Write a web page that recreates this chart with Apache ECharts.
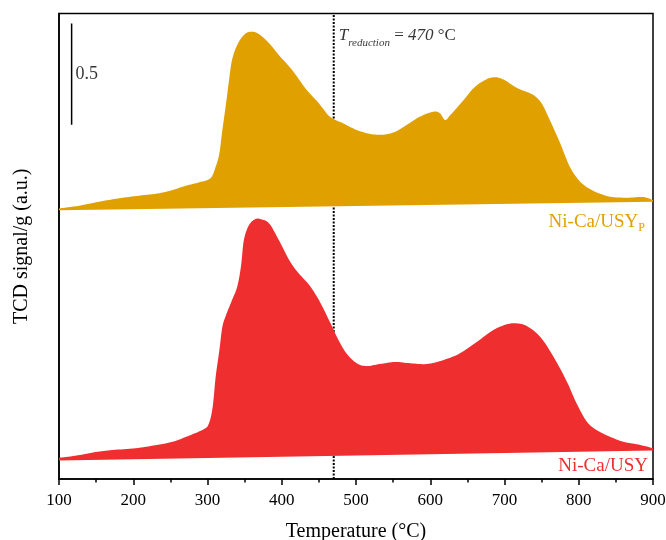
<!DOCTYPE html>
<html><head><meta charset="utf-8">
<script src="https://cdn.jsdelivr.net/npm/echarts@6/dist/echarts.min.js"></script>
<style>html,body{margin:0;padding:0;background:#fff}#c{width:666px;height:540px}</style>
</head><body><div id="c"></div>
<script>
// ---- data (offset TCD curves, a.u.) ----
const tempUSYP = [100,127,154,181,208,235,253,271,289,304,311,316,320,325,329,333,340,349,358,369,383,396,414,432,450,465,483,501,519,537,553,568,586,604,613,620,627,645,658,672,685,698,714,725,739,750,761,775,788,802,820,842,865,887,900];
const signalUSYP = [1.337,1.350,1.370,1.387,1.400,1.412,1.428,1.449,1.466,1.486,1.543,1.609,1.724,1.856,1.971,2.070,2.144,2.194,2.210,2.199,2.153,2.095,2.021,1.930,1.856,1.790,1.757,1.724,1.705,1.701,1.716,1.749,1.790,1.815,1.807,1.774,1.798,1.873,1.930,1.968,1.985,1.975,1.938,1.919,1.897,1.856,1.774,1.659,1.543,1.469,1.423,1.395,1.390,1.393,1.378];
const baselineUSYP = [1.328, 1.370];

const tempUSY = [100,122,149,172,203,230,253,275,295,302,307,311,316,320,325,333,340,345,349,356,365,372,383,396,410,421,437,450,465,475,487,501,514,532,553,573,595,618,640,663,685,703,716,730,748,766,784,797,811,824,842,860,883,900];
const signalUSY = [0.105,0.115,0.133,0.143,0.152,0.167,0.184,0.214,0.246,0.275,0.357,0.505,0.637,0.752,0.810,0.884,0.950,1.049,1.181,1.255,1.285,1.283,1.263,1.181,1.082,1.024,0.958,0.884,0.775,0.697,0.621,0.572,0.558,0.568,0.578,0.572,0.568,0.588,0.621,0.678,0.736,0.764,0.769,0.756,0.703,0.604,0.481,0.374,0.283,0.242,0.209,0.184,0.168,0.152];
const baselineUSY = [0.091, 0.141];
const baselineTemps = [100, 900];

const reductionTemp = 470;
const scaleBarTemp = 117;
const scaleBarRange = [1.75, 2.25];
const xRange = [100, 900];
const xStep = 100;
const yRange = [0, 2.3];

const colUSYP = '#E0A000';
const colUSY = '#EF2E2F';
const FONT = '"Liberation Serif", "DejaVu Serif", serif';

// Smooth the outline in pixel space (Catmull-Rom through the read points)
function smoothOutline(p) {
  const out = [];
  const n = p.length;
  for (let i = 0; i < n - 1; i++) {
    const p0 = p[Math.max(0, i - 1)], p1 = p[i], p2 = p[i + 1], p3 = p[Math.min(n - 1, i + 2)];
    const c1 = [p1[0] + (p2[0] - p0[0]) / 6, p1[1] + (p2[1] - p0[1]) / 6];
    const c2 = [p2[0] - (p3[0] - p1[0]) / 6, p2[1] - (p3[1] - p1[1]) / 6];
    const steps = 8;
    for (let s = 0; s < steps; s++) {
      const t = s / steps, u = 1 - t;
      out.push([
        u*u*u*p1[0] + 3*u*u*t*c1[0] + 3*u*t*t*c2[0] + t*t*t*p2[0],
        u*u*u*p1[1] + 3*u*u*t*c1[1] + 3*u*t*t*c2[1] + t*t*t*p2[1]
      ]);
    }
  }
  out.push(p[n - 1]);
  return out;
}

function areaSeries(name, temps, vals, base, color) {
  return {
    type: 'custom', name: name, coordinateSystem: 'cartesian2d', z: 3, silent: true,
    data: temps.map((t, i) => [t, vals[i]]),
    encode: { x: 0, y: 1 },
    renderItem: function (params, api) {
      if (params.dataIndex !== 0) return null;
      const pts = smoothOutline(temps.map((t, i) => api.coord([t, vals[i]])));
      pts.push(api.coord([baselineTemps[1], base[1]]));
      pts.push(api.coord([baselineTemps[0], base[0]]));
      return { type: 'polygon', shape: { points: pts }, style: { fill: color } };
    }
  };
}

const chart = echarts.init(document.getElementById('c'), null, { renderer: 'canvas' });
chart.setOption({
  animation: false,
  backgroundColor: '#fff',
  grid: { left: 59, right: 13, top: 13.5, bottom: 61, containLabel: false, outerBoundsMode: 'none', show: true, borderColor: '#000', borderWidth: 1.5, backgroundColor: 'transparent' },
  xAxis: {
    type: 'value', min: xRange[0], max: xRange[1], interval: xStep,
    name: 'Temperature (°C)', nameLocation: 'middle', nameGap: 43,
    nameTextStyle: { fontFamily: FONT, fontSize: 20, color: '#000' },
    axisLine: { show: true, lineStyle: { color: '#000', width: 1.5 } },
    axisTick: { show: true, inside: false, length: 6, lineStyle: { color: '#000', width: 1.5 } },
    minorTick: { show: true, splitNumber: 2, length: 3.5, lineStyle: { color: '#000', width: 1.5 } },
    axisLabel: { fontFamily: FONT, fontSize: 17, color: '#000', margin: 13 },
    splitLine: { show: false }
  },
  yAxis: {
    type: 'value', min: yRange[0], max: yRange[1],
    name: 'TCD signal/g (a.u.)', nameLocation: 'middle', nameGap: 27,
    nameTextStyle: { fontFamily: FONT, fontSize: 20, color: '#000' },
    axisLine: { show: true, lineStyle: { color: '#000', width: 1.5 } },
    axisTick: { show: false }, axisLabel: { show: false }, splitLine: { show: false }
  },
  series: [
    {
      type: 'line', name: 'reduction', z: 2, silent: true, symbol: 'none',
      data: [[reductionTemp, yRange[0]], [reductionTemp, yRange[1]]],
      lineStyle: { color: '#000', width: 2, type: [2, 1.5] }
    },
    areaSeries('Ni-Ca/USYP', tempUSYP, signalUSYP, baselineUSYP, colUSYP),
    areaSeries('Ni-Ca/USY', tempUSY, signalUSY, baselineUSY, colUSY),
    {
      type: 'line', name: 'scale', z: 4, silent: true, symbol: 'none',
      data: [[scaleBarTemp, scaleBarRange[0]], [scaleBarTemp, scaleBarRange[1]]],
      lineStyle: { color: '#000', width: 1.5 }
    },
    {
      type: 'scatter', name: 'scaleLabel', z: 4, silent: true, symbolSize: 0,
      data: [[scaleBarTemp, (scaleBarRange[0] + scaleBarRange[1]) / 2]],
      label: { show: true, position: 'right', distance: 4, formatter: '0.5', fontFamily: FONT, fontSize: 18, color: '#000' }
    },
    {
      type: 'scatter', name: 'reductionLabel', z: 4, silent: true, symbolSize: 0,
      data: [[reductionTemp, 2.19]],
      label: {
        show: true, position: 'right', distance: 5,
        formatter: '{t|T}{s|reduction}{n| = }{i|470}{n| °C}',
        rich: {
          t: { fontFamily: FONT, fontSize: 17, fontStyle: 'italic', color: '#000' },
          s: { fontFamily: FONT, fontSize: 11, fontStyle: 'italic', color: '#000', padding: [14, 0, 0, 0] },
          n: { fontFamily: FONT, fontSize: 17, color: '#000' },
          i: { fontFamily: FONT, fontSize: 17, fontStyle: 'italic', color: '#000' }
        }
      }
    }
  ],
  graphic: [
    {
      type: 'text', x: 645, y: 222, silent: true,
      style: {
        text: '{m|Ni-Ca/USY}{p|P}', textAlign: 'right', textVerticalAlign: 'middle',
        rich: {
          m: { fontFamily: FONT, fontSize: 19, fill: colUSYP, color: colUSYP },
          p: { fontFamily: FONT, fontSize: 12, fill: colUSYP, color: colUSYP, padding: [12, 0, 0, 0] }
        }
      }
    },
    {
      type: 'text', x: 648, y: 466, silent: true,
      style: { text: 'Ni-Ca/USY', fontFamily: FONT, fontSize: 19, fill: colUSY, textAlign: 'right', textVerticalAlign: 'middle' }
    }
  ]
});
</script></body></html>
